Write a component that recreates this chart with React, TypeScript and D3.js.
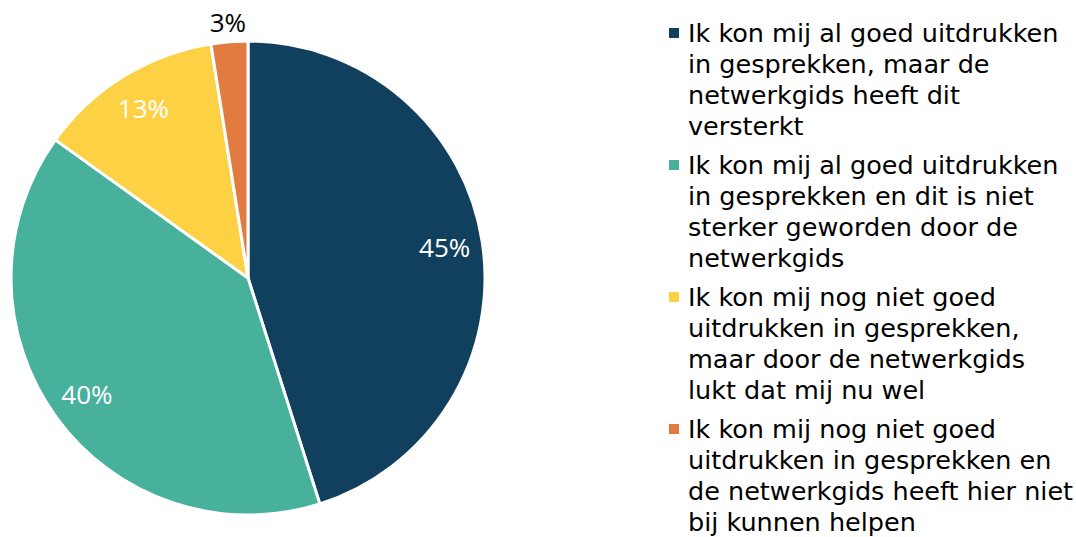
import React, { useEffect, useRef } from 'react';
import * as d3 from 'd3';

// answers, in the order the slices run clockwise from 12 o'clock
const categories: string[][] = [
  ['Ik kon mij al goed uitdrukken', 'in gesprekken, maar de', 'netwerkgids heeft dit', 'versterkt'],
  ['Ik kon mij al goed uitdrukken', 'in gesprekken en dit is niet', 'sterker geworden door de', 'netwerkgids'],
  ['Ik kon mij nog niet goed', 'uitdrukken in gesprekken,', 'maar door de netwerkgids', 'lukt dat mij nu wel'],
  ['Ik kon mij nog niet goed', 'uitdrukken in gesprekken en', 'de netwerkgids heeft hier niet', 'bij kunnen helpen'],
];
const shares = [45.1, 39.8, 12.6, 2.5];
const percentLabels = ['45%', '40%', '13%', '3%'];
const colors = ['#11405e', '#48b19c', '#fcd244', '#e27b40'];

const W = 1076;
const H = 537;

const App = () => {
  const svgRef = useRef<SVGSVGElement>(null);

  useEffect(() => {
    document.body.style.margin = '0';
    const svg = d3.select(svgRef.current);
    svg.selectAll('*').remove();

    const cx = 248;
    const cy = 278;
    const radius = 237;

    const pie = d3.pie<number>().sort(null).value(d => d);
    const arc = d3.arc<d3.PieArcDatum<number>>().innerRadius(0).outerRadius(radius);
    const inLabel = d3.arc<d3.PieArcDatum<number>>().innerRadius(radius * 0.84).outerRadius(radius * 0.84);
    const outLabel = d3.arc<d3.PieArcDatum<number>>().innerRadius(radius * 1.08).outerRadius(radius * 1.08);

    const arcs = pie(shares);
    const g = svg.append('g').attr('transform', `translate(${cx},${cy})`);

    g.selectAll('path.slice')
      .data(arcs)
      .enter()
      .append('path')
      .attr('class', 'slice')
      .attr('d', arc)
      .attr('fill', (_, i) => colors[i])
      .attr('stroke', '#fff')
      .attr('stroke-width', 3)
      .attr('stroke-linejoin', 'round');

    g.selectAll('text.pct')
      .data(arcs)
      .enter()
      .append('text')
      .attr('class', 'pct')
      .attr('transform', d => {
        const small = d.data < 5;
        const [x, y] = small ? outLabel.centroid(d) : inLabel.centroid(d);
        return `translate(${x},${y})`;
      })
      .attr('text-anchor', 'middle')
      .attr('dy', '0.36em')
      .attr('font-family', '"Open Sans", sans-serif')
      .attr('font-size', 26)
      .attr('fill', d => (d.data < 5 ? '#000' : '#fff'))
      .text((_, i) => percentLabels[i]);

    // legend
    const lineH = 31;
    const itemStep = 132;
    const legend = svg.append('g').attr('transform', 'translate(669,42)');
    const items = legend.selectAll('g.item')
      .data(categories)
      .enter()
      .append('g')
      .attr('class', 'item')
      .attr('transform', (_, i) => `translate(0,${i * itemStep})`);

    items.append('rect')
      .attr('x', 0)
      .attr('y', -14)
      .attr('width', 10)
      .attr('height', 10)
      .attr('fill', (_, i) => colors[i]);

    items.append('text')
      .attr('font-family', '"DejaVu Sans", sans-serif')
      .attr('font-size', 25.5)
      .attr('fill', '#000')
      .selectAll('tspan')
      .data(d => d)
      .enter()
      .append('tspan')
      .attr('x', 19)
      .attr('y', (_, j) => j * lineH)
      .text(d => d);
  }, []);

  return <svg ref={svgRef} width={W} height={H} style={{ display: 'block' }}></svg>;
};

export default App;
